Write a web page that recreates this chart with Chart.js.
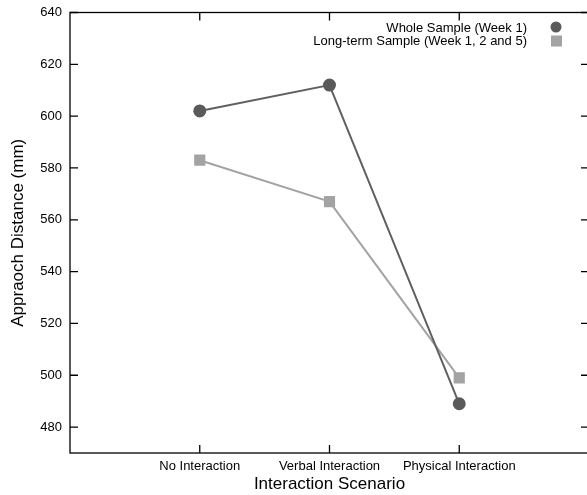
<!DOCTYPE html>
<html>
<head>
<meta charset="utf-8">
<script src="https://cdn.jsdelivr.net/npm/chart.js@4/dist/chart.umd.min.js"></script>
<style>
  html, body { margin: 0; padding: 0; background: #fff; overflow: hidden; }
  #wrap { width: 600px; height: 495px; }
</style>
</head>
<body>
<div id="wrap"><canvas id="grafica" width="600" height="495"></canvas></div>
<script>
// categorias y valores
const escenarios = ['No Interaction', 'Verbal Interaction', 'Physical Interaction'];
const muestraCompleta = [602, 612, 489];
const muestraLarga = [583, 567, 499];
const ticksY = [480, 500, 520, 540, 560, 580, 600, 620, 640];

const fuente = 'Liberation Sans, Arial, sans-serif';

// marco y ticks hacia adentro, como en la figura original
const marcoPlugin = {
  id: 'marco',
  afterDraw(chart) {
    const ctx = chart.ctx;
    const a = chart.chartArea;
    const xs = chart.scales.x, ys = chart.scales.y;
    ctx.save();
    ctx.strokeStyle = '#000';
    ctx.lineWidth = 1.3;
    ctx.strokeRect(a.left, a.top, a.right - a.left, a.bottom - a.top);
    ctx.beginPath();
    ticksY.forEach(v => {
      const y = ys.getPixelForValue(v);
      ctx.moveTo(a.left, y); ctx.lineTo(a.left + 8, y);
      ctx.moveTo(a.right, y); ctx.lineTo(a.right - 8, y);
    });
    escenarios.forEach((_, i) => {
      const x = xs.getPixelForValue(i + 1);
      ctx.moveTo(x, a.bottom); ctx.lineTo(x, a.bottom - 8);
      ctx.moveTo(x, a.top); ctx.lineTo(x, a.top + 8);
    });
    ctx.stroke();

    // leyenda
    ctx.font = '13px ' + fuente;
    ctx.textAlign = 'right';
    ctx.textBaseline = 'middle';
    chart.data.datasets.forEach((ds, i) => {
      const y = 28 + i * 13;
      ctx.fillStyle = '#000';
      ctx.fillText(ds.label, 527, y);
      ctx.fillStyle = ds.pointBackgroundColor;
      if (ds.pointStyle === 'rect') {
        ctx.fillRect(551, y - 5.5, 11, 11);
      } else {
        ctx.beginPath();
        ctx.arc(556, y - 1, 5.5, 0, Math.PI * 2);
        ctx.fill();
      }
    });
    ctx.restore();
  }
};

new Chart(document.getElementById('grafica'), {
  type: 'line',
  data: {
    datasets: [
      {
        label: 'Whole Sample (Week 1)',
        data: muestraCompleta.map((v, i) => ({ x: i + 1, y: v })),
        borderColor: '#606060',
        backgroundColor: '#606060',
        pointBackgroundColor: '#5a5a5a',
        pointBorderColor: '#5a5a5a',
        pointStyle: 'circle',
        pointRadius: 5.5,
        borderWidth: 2
      },
      {
        label: 'Long-term Sample (Week 1, 2 and 5)',
        data: muestraLarga.map((v, i) => ({ x: i + 1, y: v })),
        borderColor: '#a3a3a3',
        backgroundColor: '#a3a3a3',
        pointBackgroundColor: '#a3a3a3',
        pointBorderColor: '#a3a3a3',
        pointStyle: 'rect',
        pointRadius: 6.5,
        borderWidth: 2
      }
    ]
  },
  options: {
    responsive: false,
    animation: false,
    layout: { padding: { top: 12.5, right: 11, left: 0, bottom: 0 } },
    plugins: { legend: { display: false }, tooltip: { enabled: false } },
    scales: {
      x: {
        type: 'linear',
        min: 0,
        max: 4,
        afterBuildTicks: s => { s.ticks = escenarios.map((_, i) => ({ value: i + 1 })); },
        afterFit: s => { s.height = 42; s.paddingLeft = 0; s.paddingRight = 0; },
        ticks: {
          color: '#000',
          font: { family: fuente, size: 13 },
          padding: 6,
          maxRotation: 0,
          autoSkip: false,
          callback: v => escenarios[v - 1]
        },
        grid: { display: false, drawTicks: false },
        border: { display: false },
        title: {
          display: true,
          text: 'Interaction Scenario',
          color: '#000',
          font: { family: fuente, size: 17 },
          padding: { top: 0, bottom: 0 }
        }
      },
      y: {
        min: 470,
        max: 640,
        afterBuildTicks: s => { s.ticks = ticksY.map(v => ({ value: v })); },
        afterFit: s => { s.width = 70; s.paddingTop = 0; s.paddingBottom = 0; },
        ticks: {
          color: '#000',
          font: { family: fuente, size: 13 },
          padding: 8
        },
        grid: { display: false, drawTicks: false },
        border: { display: false },
        title: {
          display: true,
          text: 'Appraoch Distance (mm)',
          color: '#000',
          font: { family: fuente, size: 17 },
          padding: { top: 8, bottom: 0 }
        }
      }
    }
  },
  plugins: [marcoPlugin]
});
</script>
</body>
</html>
